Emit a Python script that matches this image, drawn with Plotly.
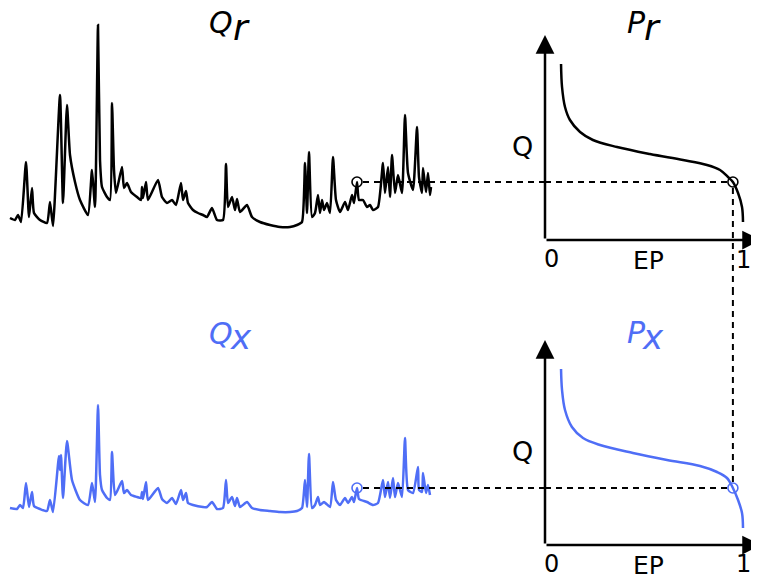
import plotly.graph_objects as go

W, H = 759, 578
OFF = 8  # page margin of the browser body
BLUE = "#4f6ef6"

# ---------------- data ----------------
# observed (reference) streamflow series Q_r : time index and discharge
t_r = [10, 15, 18, 21, 26, 29, 32, 34, 40, 47, 50, 53, 60, 63, 67, 70, 75, 80, 88, 92, 95, 98, 100,
       102, 107, 110, 112, 114, 116, 122, 124, 127, 131, 137, 141, 142, 143, 146, 148, 158, 162, 167, 172,
       176, 181, 183, 186, 188, 193, 198, 203, 207, 212, 217, 223, 226, 228, 232, 235, 237, 240, 247,
       252, 260, 270, 280, 290, 297, 302, 305, 307, 309, 312, 315, 318, 320, 322, 324, 327, 330, 333,
       336, 340, 345, 348, 352, 354, 357, 359, 363, 367, 370, 373, 378, 383, 385, 388, 390, 392, 395,
       398, 402, 405, 408, 413, 417, 419, 422, 423, 426, 428, 430, 431]
q_r = [22, 20, 25, 18, 78, 23, 52, 27, 20, 17, 38, 14, 145, 37, 135, 85, 58, 40, 25, 70, 33, 215, 80,
       53, 43, 40, 137, 70, 47, 73, 52, 57, 48, 43, 40, 53, 42, 58, 40, 60, 43, 37, 40,
       35, 57, 40, 49, 37, 30, 27, 25, 23, 32, 20, 20, 76, 33, 43, 30, 41, 28, 35,
       23, 18, 15, 13, 13, 15, 18, 77, 27, 88, 23, 27, 45, 27, 40, 30, 37, 27, 83,
       40, 28, 38, 30, 45, 37, 58, 40, 40, 33, 35, 30, 33, 77, 47, 73, 43, 85, 47,
       65, 47, 125, 67, 50, 113, 63, 47, 72, 48, 67, 45, 53]

# simulated series Q_x
t_x = [10, 17, 20, 23, 26, 29, 32, 34, 40, 47, 50, 53, 59, 60, 61, 63, 67, 72, 80, 88, 92, 95, 98,
       100, 102, 107, 110, 112, 115, 122, 124, 127, 131, 137, 141, 142, 143, 146, 148, 158, 162, 167,
       172, 176, 181, 183, 186, 188, 193, 203, 207, 212, 217, 223, 226, 228, 232, 235, 237, 240, 247,
       252, 260, 270, 280, 290, 297, 302, 305, 307, 309, 312, 315, 318, 320, 324, 330, 333, 336, 340,
       345, 348, 352, 354, 357, 359, 367, 373, 378, 383, 385, 388, 390, 393, 395, 398, 402, 405, 408,
       413, 418, 419, 422, 423, 426, 428, 430]
q_x = [37, 36, 40, 37, 62, 38, 53, 39, 36, 34, 45, 33, 89, 75, 90, 47, 104, 65, 45, 40, 62, 43, 140,
       70, 55, 47, 45, 93, 50, 64, 52, 55, 50, 48, 47, 53, 46, 63, 45, 57, 46, 42,
       47, 41, 55, 45, 52, 42, 40, 38, 38, 43, 36, 37, 65, 42, 48, 39, 47, 38, 43,
       37, 35, 34, 33, 33, 34, 37, 65, 38, 91, 37, 40, 48, 40, 43, 38, 63, 45, 40,
       47, 42, 48, 43, 57, 46, 43, 40, 42, 65, 48, 63, 47, 67, 48, 62, 48, 107, 55,
       52, 78, 55, 53, 72, 52, 60, 50]

# flow duration curves: exceedance probability vs discharge
ep_r = [0.081, 0.086, 0.101, 0.126, 0.177, 0.242, 0.364, 0.530, 0.697, 0.818, 0.884, 0.924, 0.949,
        0.975, 0.995, 1.0]
fq_r = [176, 153, 133, 120, 108, 100, 93, 86, 80, 75, 70, 63, 58, 47, 33, 18]
ep_x = [0.081, 0.086, 0.101, 0.136, 0.192, 0.278, 0.444, 0.616, 0.783, 0.869, 0.919, 0.949, 0.975,
        0.995, 1.0]
fq_x = [176, 155, 135, 118, 107, 100, 92, 85, 79, 73, 67, 57, 45, 32, 17]

# highlighted point: time step, exceedance probability, discharge
t_pt = 357
ep_pt = 0.949
q_pt_r = 58
q_pt_x = 57

# ---------------- figure ----------------
fig = go.Figure()
ts_line = dict(width=2.5, shape="spline", smoothing=0.5)

fig.add_trace(go.Scatter(x=t_r, y=q_r, mode="lines", line=dict(color="black", **ts_line),
                         xaxis="x", yaxis="y"))
fig.add_trace(go.Scatter(x=[t_pt], y=[q_pt_r], mode="markers", xaxis="x", yaxis="y",
                         marker=dict(symbol="circle-open", size=10, color="black", line=dict(width=1.6))))
fig.add_trace(go.Scatter(x=ep_r, y=fq_r, mode="lines", line=dict(color="black", width=2.5, shape="spline"),
                         xaxis="x2", yaxis="y"))
fig.add_trace(go.Scatter(x=[ep_pt], y=[q_pt_r], mode="markers", xaxis="x2", yaxis="y",
                         marker=dict(symbol="circle-open", size=10, color="black", line=dict(width=1.6))))

fig.add_trace(go.Scatter(x=t_x, y=q_x, mode="lines", line=dict(color=BLUE, **ts_line),
                         xaxis="x3", yaxis="y3"))
fig.add_trace(go.Scatter(x=[t_pt], y=[q_pt_x], mode="markers", xaxis="x3", yaxis="y3",
                         marker=dict(symbol="circle-open", size=10, color=BLUE, line=dict(width=1.6))))
fig.add_trace(go.Scatter(x=ep_x, y=fq_x, mode="lines", line=dict(color=BLUE, width=2.5, shape="spline"),
                         xaxis="x4", yaxis="y3"))
fig.add_trace(go.Scatter(x=[ep_pt], y=[q_pt_x], mode="markers", xaxis="x4", yaxis="y3",
                         marker=dict(symbol="circle-open", size=10, color=BLUE, line=dict(width=1.6))))

# axis layout (scales laid out in page pixels; the page body adds an OFF-pixel margin)
split = 545          # page x where time series panel ends / EP=0
mid = 289            # page y separating the two rows
base_top, base_bot = 240, 545   # page y of Q = 0 in each row
ep_px = 198.0        # pixels per unit EP
ts_dom = [0, (split - OFF) / W]
fdc_dom = [(split - OFF) / W, 1]
ep_max = (W + OFF - split) / ep_px
ep_tip = (W + 2 - split) / ep_px
y_split = 1 - (mid - OFF) / H
hidden = dict(visible=False, fixedrange=True)
fig.update_layout(
    xaxis=dict(domain=ts_dom, range=[OFF, split], anchor="y", **hidden),
    xaxis2=dict(domain=fdc_dom, range=[0, ep_max], anchor="y", **hidden),
    xaxis3=dict(domain=ts_dom, range=[OFF, split], anchor="y3", **hidden),
    xaxis4=dict(domain=fdc_dom, range=[0, ep_max], anchor="y3", **hidden),
    yaxis=dict(domain=[y_split, 1], range=[base_top - mid, base_top - OFF], anchor="x", **hidden),
    yaxis3=dict(domain=[0, y_split], range=[base_bot - (H + OFF), base_bot - mid], anchor="x3", **hidden),
)

dash = dict(color="black", width=2, dash="6px,5px")
shapes = [
    dict(type="line", xref="x", yref="y", x0=t_pt + 6, x1=split, y0=q_pt_r, y1=q_pt_r, line=dash),
    dict(type="line", xref="x2", yref="y", x0=0, x1=ep_pt - 0.025, y0=q_pt_r, y1=q_pt_r, line=dash),
    dict(type="line", xref="x3", yref="y3", x0=t_pt + 6, x1=split, y0=q_pt_x, y1=q_pt_x, line=dash),
    dict(type="line", xref="x4", yref="y3", x0=0, x1=ep_pt - 0.025, y0=q_pt_x, y1=q_pt_x, line=dash),
    dict(type="line", xref="x2", yref="y", x0=ep_pt, x1=ep_pt, y0=q_pt_r - 6, y1=base_top - mid, line=dash),
    dict(type="line", xref="x4", yref="y3", x0=ep_pt, x1=ep_pt, y0=base_bot - mid, y1=q_pt_x + 6, line=dash),
]

ann = []
# axes with arrows
for xr, yr in (("x2", "y"), ("x4", "y3")):
    ann.append(dict(x=0, y=205, ax=0, ay=0, xref=xr, yref=yr, axref=xr, ayref=yr, text="",
                    showarrow=True, arrowhead=2, arrowsize=1.5, arrowwidth=2.5, arrowcolor="black"))
    ann.append(dict(x=ep_tip, y=0, ax=0, ay=0, xref=xr, yref=yr, axref=xr, ayref=yr, text="",
                    showarrow=True, arrowhead=2, arrowsize=1.5, arrowwidth=2.5, arrowcolor="black"))


def txt(s, px, py, size, color="black", italic=False):
    return dict(text=(f"<i>{s}</i>" if italic else s), x=(px - OFF) / W, y=1 - (py - OFF) / H,
                xref="paper", yref="paper", showarrow=False, xanchor="center", yanchor="middle",
                font=dict(family="DejaVu Sans", size=size, color=color))


ann += [
    txt("Q", 221, 23, 30, italic=True), txt("r", 241, 28, 36, italic=True),
    txt("P", 636, 23, 30, italic=True), txt("r", 652, 28, 36, italic=True),
    txt("Q", 221, 333, 30, color=BLUE, italic=True), txt("x", 241, 337, 34, color=BLUE, italic=True),
    txt("P", 636, 332, 30, color=BLUE, italic=True), txt("x", 653, 337, 34, color=BLUE, italic=True),
    txt("Q", 522, 146, 27), txt("Q", 522, 451, 27),
    txt("0", 551, 259, 24), txt("EP", 648, 261, 25), txt("1", 743, 260, 24),
    txt("0", 551, 564, 24), txt("EP", 648, 565, 25), txt("1", 743, 564, 24),
]

fig.update_layout(width=W, height=H, margin=dict(l=0, r=0, t=0, b=0), showlegend=False,
                  paper_bgcolor="white", plot_bgcolor="white", shapes=shapes, annotations=ann)

fig.write_html("out.html")
